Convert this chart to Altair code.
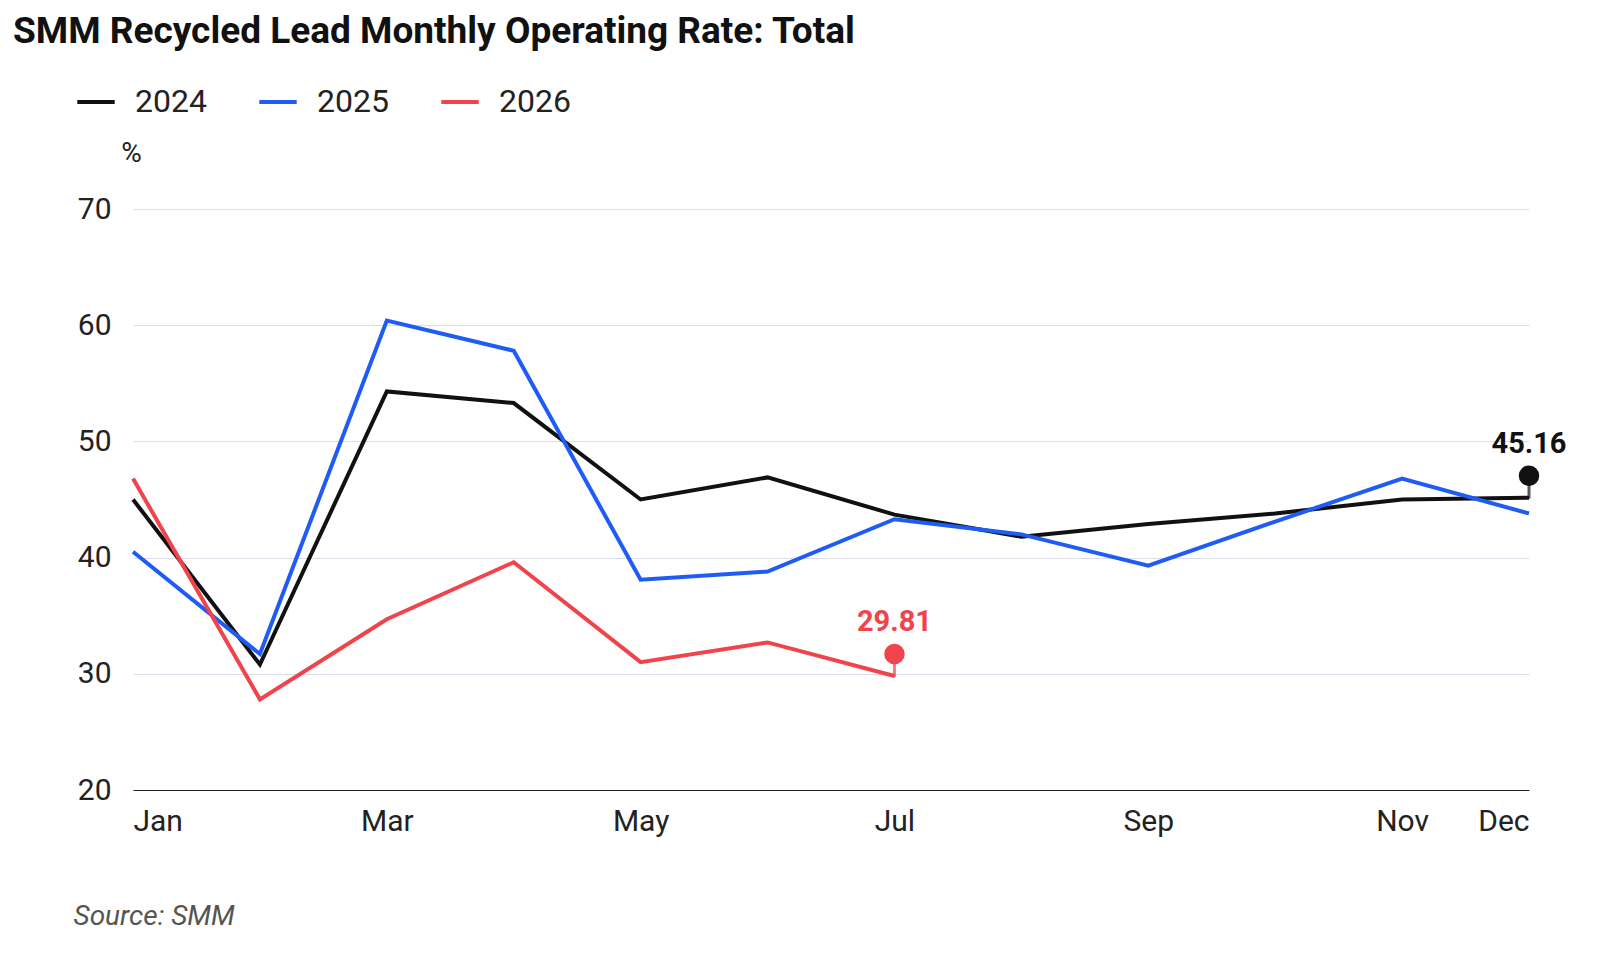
import pandas as pd
import altair as alt

months = list(range(1, 13))
month_names = ["Jan", "Feb", "Mar", "Apr", "May", "Jun", "Jul", "Aug", "Sep", "Oct", "Nov", "Dec"]
rate_2024 = [45.0, 30.8, 54.3, 53.3, 45.0, 46.9, 43.7, 41.8, 42.9, 43.8, 45.0, 45.16]
rate_2025 = [40.5, 31.7, 60.4, 57.8, 38.1, 38.8, 43.3, 42.0, 39.3, 43.1, 46.8, 43.8]
rate_2026 = [46.8, 27.8, 34.7, 39.6, 31.0, 32.7, 29.81]

rows = []
for yr, vals in [("2024", rate_2024), ("2025", rate_2025), ("2026", rate_2026)]:
    for m, v in zip(months, vals):
        rows.append({"Month": m, "Rate": v, "Year": yr})
df = pd.DataFrame(rows)

last = pd.DataFrame([
    {"Month": 12, "Rate": rate_2024[-1], "Year": "2024", "label": "45.16"},
    {"Month": 7, "Rate": rate_2026[-1], "Year": "2026", "label": "29.81"},
])

colors = alt.Scale(domain=["2024", "2025", "2026"], range=["#111111", "#1f5cf5", "#f0434b"])
names = "['Jan','Feb','Mar','Apr','May','Jun','Jul','Aug','Sep','Oct','Nov','Dec'][datum.value-1]"

x = alt.X("Month:Q", scale=alt.Scale(domain=[1, 12], nice=False),
          axis=alt.Axis(values=[1, 3, 5, 7, 9, 11, 12], labelExpr=names, labelFlush=True,
                        grid=False, ticks=False, domainColor="#222", labelFontSize=30,
                        labelColor="#222", labelPadding=16,
                        title="Source:  SMM", titleFontStyle="italic", titleFontWeight="normal",
                        titleFontSize=28, titleColor="#555", titleAnchor="start",
                        titleAlign="left", titleX=-60, titleY=112))
y = alt.Y("Rate:Q", scale=alt.Scale(domain=[20, 70], nice=False),
          axis=alt.Axis(values=[20, 30, 40, 50, 60, 70], ticks=False, domain=False,
                        gridColor="#dcdce8", labelFontSize=30, labelColor="#222", labelPadding=22,
                        title="%", titleAngle=0, titleX=-2, titleY=-42, titleFontSize=28,
                        titleFontWeight="normal", titleColor="#222"))

lines = alt.Chart(df).mark_line(strokeWidth=4).encode(
    x=x, y=y,
    color=alt.Color("Year:N", scale=colors, title=None,
                    legend=alt.Legend(orient="none", legendX=-58, legendY=-128, direction="horizontal",
                                      symbolType="stroke", symbolStrokeWidth=4, symbolSize=1400,
                                      labelFontSize=32, labelColor="#222", columnPadding=44,
                                      labelOffset=18)),
)
pins = alt.Chart(last).mark_circle(size=420, yOffset=-22, opacity=1).encode(
    x="Month:Q", y="Rate:Q", color=alt.Color("Year:N", scale=colors, legend=None))
stems = alt.Chart(last).mark_tick(orient="vertical", size=14, thickness=3, yOffset=-6).encode(
    x="Month:Q", y="Rate:Q", color=alt.Color("Year:N", scale=colors, legend=None))
labels = alt.Chart(last).mark_text(dy=-54, fontSize=29, fontWeight="bold").encode(
    x="Month:Q", y="Rate:Q", text="label:N", color=alt.Color("Year:N", scale=colors, legend=None))

chart = (lines + stems + pins + labels).properties(
    width=1396, height=581,
    title=alt.TitleParams("SMM Recycled Lead Monthly Operating Rate: Total", anchor="start",
                          fontSize=37, fontWeight="bold", color="#111", offset=30, dx=-60),
).configure(font="Roboto").configure_view(stroke=None)

chart.save("out.html", embed_options={"renderer": "svg", "actions": False})
